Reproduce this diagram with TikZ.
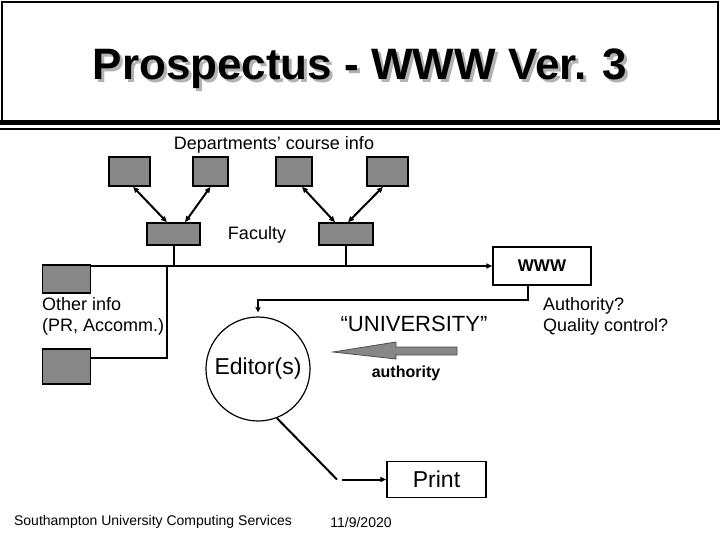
\documentclass[tikz,border=0pt]{standalone}
\usepackage{fontspec}
\setmainfont{Liberation Sans}
\usetikzlibrary{arrows.meta, positioning}
\definecolor{boxgray}{RGB}{135,135,135}

\begin{document}
\begin{tikzpicture}[x=1pt, y=-1pt,
        unit/.style={draw, line width=1.5pt, fill=boxgray, inner sep=0pt},
        frame/.style={draw, line width=1.5pt, fill=white, inner sep=0pt},
        link/.style={line width=2pt},
        tip/.style={-{Triangle[length=6pt,width=5pt]}},
        both/.style={{Triangle[length=6pt,width=5pt]}-{Triangle[length=6pt,width=5pt]}},
        txt/.style={font=\fontsize{18}{21}\selectfont, inner sep=0pt},
        big/.style={font=\fontsize{23}{27}\selectfont, inner sep=0pt}]
        \useasboundingbox (0,0) rectangle (720,540);

        % title
        \draw[line width=1.5pt] (2,2) rectangle (718,121);
        \draw[line width=4.5pt] (0,122.5) -- (720,122.5);
        \draw[line width=2pt] (0,129) -- (720,129);
        \node[font=\fontsize{44}{48}\selectfont\bfseries, text=black!30] (t_s) at (363,72) {Prospectus - WWW Ver. 3};
        \node[font=\fontsize{44}{48}\selectfont\bfseries] (t) at (360,69) {Prospectus - WWW Ver. 3};

        % departments and faculties
        \node[unit, minimum width=41pt, minimum height=29pt] (d_1) at (129.5,171.5) {};
        \node[unit, minimum width=35pt, minimum height=29pt] (d_2) at (210.5,171.5) {};
        \node[unit, minimum width=36pt, minimum height=29pt] (d_3) at (294,171.5) {};
        \node[unit, minimum width=41pt, minimum height=29pt] (d_4) at (387.5,171.5) {};
        \node[unit, minimum width=53pt, minimum height=22pt] (f_1) at (173.5,234) {};
        \node[unit, minimum width=54pt, minimum height=22pt] (f_2) at (346,234) {};
        \node[txt] (dept) at (274,145) {Departments’ course info};
        \node[txt] (fac) at (257,235) {Faculty};
        \path[link, both]
                ([xshift=3.5pt]d_1.south) edge ([xshift=-6.5pt]f_1.north)
                (d_2.south) edge ([xshift=11.5pt]f_1.north)
                ([xshift=8pt]d_3.south) edge ([xshift=-11pt]f_2.north)
                ([xshift=-4.5pt]d_4.south) edge ([xshift=2pt]f_2.north);

        % other info and WWW
        \node[unit, minimum width=48pt, minimum height=28pt] (o_1) at (66.5,279) {};
        \node[unit, minimum width=48pt, minimum height=35pt] (o_2) at (66.5,366.5) {};
        \node[txt, anchor=north west, align=left] (other) at (42,297) {Other info\\(PR, Accomm.)};
        \node[frame, minimum width=98pt, minimum height=38pt, font=\fontsize{17}{20}\selectfont\bfseries] (www) at (542,266) {WWW};
        \coordinate (bus) at (167,266);
        \draw[link, tip] (o_1.east |- www.west) -- (www.west);
        \draw[link] (f_1.south) -- (f_1.south |- www.west);
        \draw[link] (f_2.south) -- (f_2.south |- www.west);
        \draw[link] ([yshift=8.5pt]o_2.east) -| (bus);

        % editors
        \node[draw, circle, line width=1.2pt, minimum size=104pt, big] (ed) at (258,369) {Editor(s)};
        \coordinate (turn) at (258,300);
        \draw[link, -{Triangle[length=5pt,width=5pt]}, shorten >=4pt] ([xshift=-14pt]www.south) |- (turn) -- (ed.north);
        \node[font=\fontsize{22}{26}\selectfont, inner sep=0pt] (uni) at (414,324) {“UNIVERSITY”};
        \filldraw[fill=boxgray, draw=black!70, line width=0.8pt]
                (333,352) -- (396,342) -- (396,347) -- (457,347) -- (457,355) -- (396,355) -- (396,359) -- cycle;
        \node[font=\fontsize{16}{19}\selectfont\bfseries, inner sep=0pt] (auth) at (406,373) {authority};
        \node[txt, anchor=north west, align=left] (qc) at (543,297) {Authority?\\Quality control?};

        % print
        \node[frame, minimum width=99pt, minimum height=36pt, big] (pr) at (436.5,479.5) {Print};
        \coordinate (elbow) at (337,479.5);
        \draw[link] (ed.-69) -- (elbow);
        \draw[link, tip] ([xshift=5pt]elbow) -- (pr.west);

        % footer
        \node[font=\fontsize{14}{16}\selectfont, inner sep=0pt] (foot) at (153,522) {Southampton University Computing Services};
        \node[font=\fontsize{14}{16}\selectfont, inner sep=0pt] (date) at (361,522) {11/9/2020};
\end{tikzpicture}
\end{document}
